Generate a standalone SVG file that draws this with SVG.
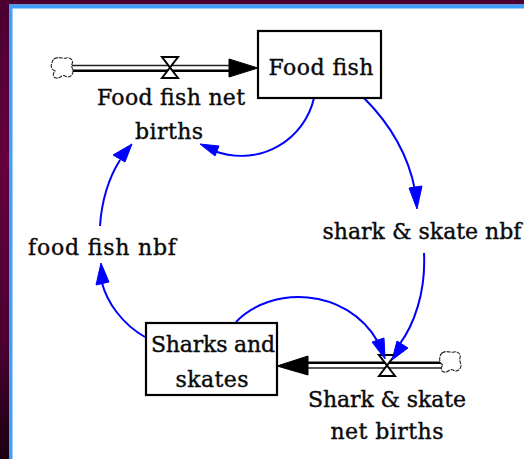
<svg xmlns="http://www.w3.org/2000/svg" width="524" height="459" viewBox="0 0 524 459">
<style>
text{font-family:"DejaVu Serif","Liberation Serif",serif;font-size:22px;fill:#0a0a0a;stroke:#0a0a0a;stroke-width:0.4;text-anchor:middle}
.stock{fill:#fff;stroke:#000;stroke-width:2.2}
.link{fill:none;stroke:#00f;stroke-width:2}
.head{fill:#00f;stroke:#00f}
.pipe1{fill:none;stroke:#000;stroke-width:2.6}
.pipe2{fill:none;stroke:#222;stroke-width:1.6}
.valve{fill:#fff;stroke:#000;stroke-width:2}
.cloud{fill:#fff;stroke:#222;stroke-width:1.1;stroke-dasharray:4 1}
</style>
<defs>
<linearGradient id="side" x1="0" y1="0" x2="0" y2="1"><stop offset="0" stop-color="#4a0030"/><stop offset="0.35" stop-color="#640040"/><stop offset="0.75" stop-color="#4a0030"/><stop offset="1" stop-color="#1c0010"/></linearGradient>
</defs>
<rect width="524" height="459" fill="#fff"/>
<rect width="9" height="459" fill="url(#side)"/>
<rect width="524" height="4.500" fill="#4a0030"/>
<rect x="9" y="4.500" width="3.500" height="455" fill="#3f9fff"/>
<rect x="9" y="4.500" width="515" height="4" fill="#3f9fff"/>
<g id="flow-food">
<path class="pipe2" d="M72 65.500H232"/><path class="pipe1" d="M72 70.800H232"/>
<path d="M258 68L229 59V77Z" stroke="#000"/>
<path class="cloud" d="M54 59C58 56 63 59 66 58C70 57 74 60 72 64C71 67 73 69 73 72C72 77 68 78 65 76C62 74 60 79 56 78C52 77 53 73 55 71C52 70 50 66 52 63C52 61 53 60 54 59Z"/>
<path class="valve" d="M162 57H178L162 78H178Z"/>
</g>
<g id="flow-shark">
<path class="pipe1" d="M306 362.800H442"/><path class="pipe2" d="M306 368H442"/>
<path d="M277 366L308 356V375Z" stroke="#000"/>
<path class="cloud" d="M442 353C446 350 451 353 454 352C458 351 461 354 460 358C459 361 461 363 461 366C460 371 456 372 453 370C450 368 448 373 444 372C440 371 441 367 443 365C440 364 439 360 440 357C440 355 441 354 442 353Z"/>
<path class="valve" d="M379 355H395L379 376H395Z"/>
</g>
<g id="connectors">
<path class="link" d="M314 98C305 138 262 168 214 151"/>
<path class="head" d="M200 144L219 146L215 156Z"/>
<path class="link" d="M364 98C390 124 408 154 415 190"/>
<path class="head" d="M417 209L409 188L422 186Z"/>
<path class="link" d="M424 253C426 292 414 325 399 345"/>
<path class="head" d="M392 360L397 341L408 348Z"/>
<path class="link" d="M236 322C270 286 346 286 378 342"/>
<path class="head" d="M385 359L372 342L384 338Z"/>
<path class="link" d="M145 337C122 324 107 302 102 283"/>
<path class="head" d="M101 263L109 282L96 285Z"/>
<path class="link" d="M100 226C102 196 110 176 120 160"/>
<path class="head" d="M132 144L125 162L113 155Z"/>
</g>
<g id="food-fish"><rect class="stock" x="258" y="31" width="123" height="67"/><text x="321" y="75" textLength="105">Food fish</text></g>
<g id="sharks-and-skates"><rect class="stock" x="146" y="323" width="131" height="72"/><text x="213" y="352" textLength="124">Sharks and</text><text x="212" y="387" textLength="73">skates</text></g>
<g id="food-fish-net-births"><text x="171" y="105" textLength="148">Food fish net</text><text x="169" y="139" textLength="68">births</text></g>
<g id="shark-skate-nbf"><text x="422" y="239" textLength="199">shark &amp; skate nbf</text></g>
<g id="food-fish-nbf"><text x="102" y="255" textLength="148">food fish nbf</text></g>
<g id="shark-skate-net-births"><text x="387" y="407" textLength="158">Shark &amp; skate</text><text x="387" y="439" textLength="113">net births</text></g>
</svg>
